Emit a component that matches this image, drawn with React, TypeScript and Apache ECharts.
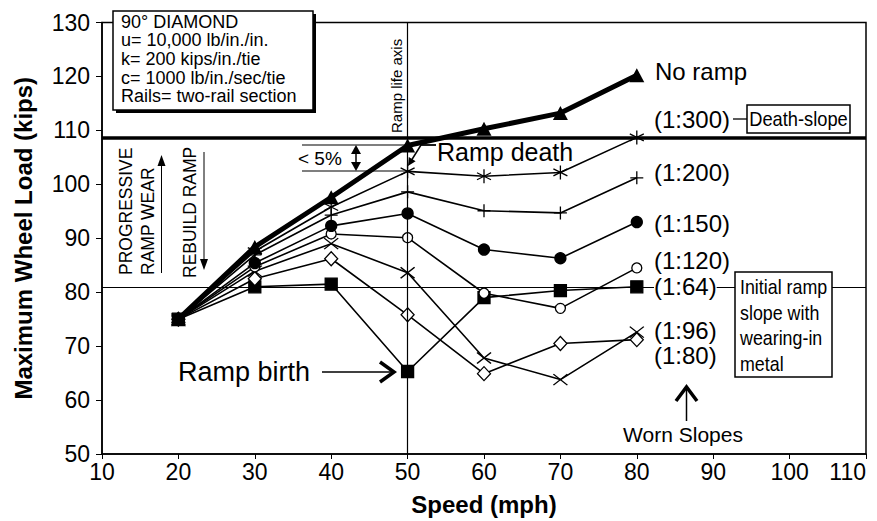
import React, { useEffect, useRef } from "react";
import * as echarts from "echarts";

const speeds = [20, 30, 40, 50, 60, 70, 80];
const noRamp = [75, 88.4, 97.6, 107.2, 110.3, 113.2, 120.2];
const slope300 = [75, 87.6, 95.8, 102.4, 101.5, 102.2, 108.7];
const slope200 = [75, 86.9, 94.3, 98.6, 95.1, 94.7, 101.2];
const slope150 = [75, 85.4, 92.3, 94.6, 87.9, 86.3, 93.0];
const slope120 = [75, 84.7, 90.8, 90.1, 79.8, 77.0, 84.5];
const slope96 = [75, 83.9, 89.0, 83.6, 67.8, 63.8, 72.6];
const slope80 = [75, 82.5, 86.2, 75.8, 64.9, 70.5, 71.2];
const slope64 = [75, 81.0, 81.5, 65.3, 79.0, 80.3, 81.0];

const deathSlopeLoad = 108.7;
const initialRampLoad = 81;
const rampLifeSpeed = 50;

const legendLines = [
  "90° DIAMOND",
  "u= 10,000 lb/in./in.",
  "k= 200 kips/in./tie",
  "c= 1000 lb/in./sec/tie",
  "Rails= two-rail section",
];

const FONT = "'Liberation Sans', Arial, Helvetica, sans-serif";

const ASTERISK = "path://M0,-10L0,10M-8.66,-5L8.66,5M-8.66,5L8.66,-5";
const PLUS = "path://M0,-10L0,10M-10,0L10,0";
const XMARK = "path://M-10,-10L10,10M-10,10L10,-10";

function pairs(ys: number[]) {
  return speeds.map((s, i) => [s, ys[i]]);
}

function thin(name: string, ys: number[], symbol: string, size: any, fill: string, extra: any = {}) {
  return {
    name,
    type: "line",
    data: pairs(ys),
    symbol,
    symbolSize: size,
    lineStyle: { color: "#000", width: 1.6 },
    itemStyle: { color: fill, borderColor: "#000", borderWidth: 1.3 },
    z: 3,
    ...extra,
  };
}

function txt(text: string, x: number, y: number, size: number, opts: any = {}) {
  const { align = "left", valign = "middle", rotation = 0, scaleX = 1, bg, lineHeight, weight } = opts;
  return {
    type: "text",
    x,
    y,
    rotation,
    scaleX,
    z: 20,
    style: {
      text,
      fill: "#000",
      fontSize: size,
      fontFamily: FONT,
      fontWeight: weight || "normal",
      align,
      verticalAlign: valign,
      textAlign: align,
      textVerticalAlign: valign,
      backgroundColor: bg,
      lineHeight,
    },
  };
}

function seg(x1: number, y1: number, x2: number, y2: number, w = 1.3) {
  return { type: "line", z: 20, shape: { x1, y1, x2, y2 }, style: { stroke: "#000", lineWidth: w } };
}

function poly(points: number[][], filled = true, w = 1) {
  return filled
    ? { type: "polygon", z: 20, shape: { points }, style: { fill: "#000" } }
    : { type: "polyline", z: 20, shape: { points }, style: { stroke: "#000", lineWidth: w, fill: "none" } };
}

export default function App() {
  const ref = useRef<HTMLDivElement>(null);
  useEffect(() => {
    document.body.style.margin = "0";
    const chart = echarts.init(ref.current as HTMLDivElement, null, { renderer: "svg" });
    const option: any = {
      animation: false,
      backgroundColor: "#fff",
      grid: {
        left: 102,
        right: 11,
        top: 22.5,
        bottom: 67,
        show: true,
        borderColor: "#000",
        borderWidth: 1.5,
        outerBoundsMode: "none",
        containLabel: false,
      },
      xAxis: {
        type: "value",
        min: 10,
        max: 110,
        interval: 10,
        name: "Speed (mph)",
        nameLocation: "middle",
        nameGap: 38,
        nameTextStyle: { fontSize: 24, fontWeight: "bold", color: "#000", fontFamily: FONT },
        axisLine: { lineStyle: { color: "#000", width: 1.5 } },
        axisTick: { show: true, length: 5, lineStyle: { color: "#000" } },
        axisLabel: { fontSize: 23, color: "#000", fontFamily: FONT, margin: 6, hideOverlap: false, alignMaxLabel: "right" },
        splitLine: { show: false },
      },
      yAxis: {
        type: "value",
        min: 50,
        max: 130,
        interval: 10,
        name: "Maximum Wheel Load (kips)",
        nameLocation: "middle",
        nameGap: 67,
        nameTextStyle: { fontSize: 24, fontWeight: "bold", color: "#000", fontFamily: FONT },
        axisLine: { lineStyle: { color: "#000", width: 1.5 } },
        axisTick: { show: true, length: 6, lineStyle: { color: "#000" } },
        axisLabel: { fontSize: 23, color: "#000", fontFamily: FONT, margin: 12 },
        splitLine: { show: false },
      },
      series: [
        thin("(1:64)", slope64, "rect", 12, "#000", {
          markLine: {
            silent: true,
            symbol: "none",
            label: { show: false },
            data: [
              { yAxis: deathSlopeLoad, lineStyle: { color: "#000", width: 3.5, type: "solid" } },
              { yAxis: initialRampLoad, lineStyle: { color: "#000", width: 1.2, type: "solid" } },
              { xAxis: rampLifeSpeed, lineStyle: { color: "#000", width: 1.2, type: "solid" } },
            ],
          },
        }),
        thin("(1:80)", slope80, "diamond", [13, 14], "#fff"),
        thin("(1:96)", slope96, XMARK, [14, 11], "#000"),
        thin("(1:120)", slope120, "circle", 10, "#fff"),
        thin("(1:150)", slope150, "circle", 11, "#000"),
        thin("(1:200)", slope200, PLUS, 13, "#000"),
        thin("(1:300)", slope300, ASTERISK, [14, 14], "#000"),
        {
          name: "No ramp",
          type: "line",
          data: pairs(noRamp),
          symbol: "triangle",
          symbolSize: [15, 14],
          lineStyle: { color: "#000", width: 5 },
          itemStyle: { color: "#000" },
          z: 4,
        },
      ],
      graphic: [
        // legend box with shadow
        { type: "rect", z: 18, shape: { x: 116, y: 14, width: 200, height: 99 }, style: { fill: "#000" } },
        { type: "rect", z: 19, shape: { x: 113, y: 11, width: 200, height: 99 }, style: { fill: "#fff", stroke: "#000", lineWidth: 1.5 } },
        ...legendLines.map((line, i) => txt(line, 121, 21.5 + i * 18.7, 18)),
        // ramp life axis
        txt("Ramp life axis", 396, 133, 15, { rotation: Math.PI / 2 }),
        // < 5%
        seg(302, 145, 407, 145, 1.2),
        seg(302, 171, 407, 171, 1.2),
        txt("< 5%", 298, 158, 19),
        seg(356, 150, 356, 166, 1.5),
        poly([[356, 145], [351, 154], [361, 154]]),
        poly([[356, 171], [351, 162], [361, 162]]),
        // ramp death
        txt("Ramp death", 437, 152, 25),
        seg(421, 145, 436, 145, 1.8),
        seg(421, 145, 411, 161, 1.5),
        poly([[408, 166], [415.6, 161.3], [408.8, 157.1]]),
        // progressive ramp wear / rebuild ramp
        txt("PROGRESSIVE", 126, 275, 17.5, { rotation: Math.PI / 2 }),
        txt("RAMP WEAR", 148, 275, 17.5, { rotation: Math.PI / 2 }),
        seg(161.5, 273, 161.5, 163, 1),
        poly([[161.5, 155], [157.5, 166], [165.5, 166]]),
        txt("REBUILD RAMP", 190, 278, 17.5, { rotation: Math.PI / 2 }),
        seg(204, 152, 204, 262, 1),
        poly([[204, 270], [200, 259], [208, 259]]),
        // ramp birth
        txt("Ramp birth", 178, 372, 27),
        seg(322, 372, 393, 372, 1.5),
        poly([[380, 362], [394, 372], [380, 382]], false, 3.5),
        // right-side labels
        txt("No ramp", 655, 71, 24),
        txt("(1:300)", 654, 119, 24),
        seg(733, 119, 747, 119, 1.3),
        { type: "rect", z: 19, shape: { x: 747, y: 105, width: 103, height: 28 }, style: { fill: "#fff", stroke: "#000", lineWidth: 1.5 } },
        txt("Death-slope", 798.5, 119, 21, { align: "center", scaleX: 0.87 }),
        txt("(1:200)", 654, 172, 24),
        txt("(1:150)", 654, 223, 24),
        txt("(1:120)", 654, 260, 24),
        txt("(1:64)", 654, 286, 24, { bg: "#fff" }),
        { type: "rect", z: 19, shape: { x: 735, y: 272, width: 97, height: 105 }, style: { fill: "#fff", stroke: "#000", lineWidth: 1.5 } },
        txt("Initial ramp\nslope with\nwearing-in\nmetal", 740, 274, 21, { valign: "top", lineHeight: 25.5, scaleX: 0.85 }),
        txt("(1:96)", 654, 330, 24),
        txt("(1:80)", 654, 355, 24),
        // worn slopes
        seg(686.5, 389, 686.5, 421, 1.5),
        poly([[676, 401], [686.5, 387], [697, 401]], false, 3.5),
        txt("Worn Slopes", 683, 434, 21, { align: "center" }),
      ],
    };
    chart.setOption(option);
    return () => chart.dispose();
  }, []);
  return <div ref={ref} style={{ width: 877, height: 521 }} />;
}
